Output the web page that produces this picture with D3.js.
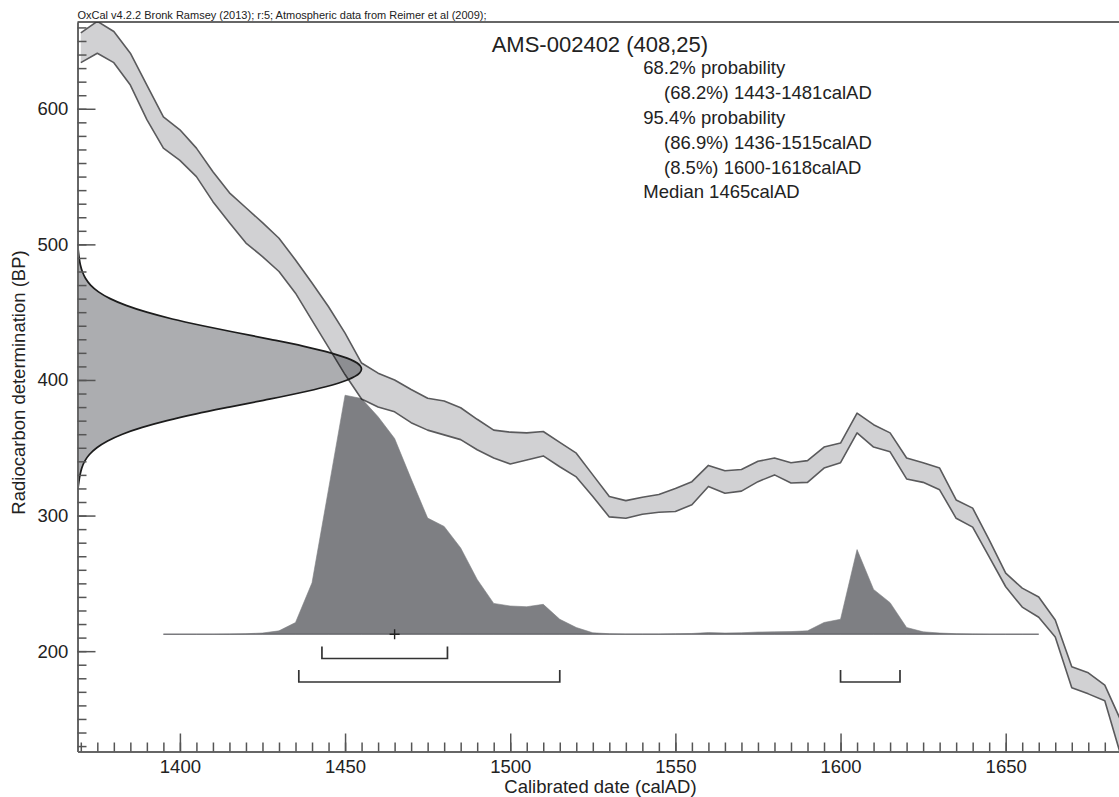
<!DOCTYPE html>
<html><head><meta charset="utf-8">
<script src="https://cdn.jsdelivr.net/npm/d3@7/dist/d3.min.js"></script>
<style>
html,body{margin:0;padding:0;background:#fff;}
svg text{font-family:"Liberation Sans",Arial,Helvetica,sans-serif;fill:#222;}
</style></head>
<body>
<svg id="chart" width="1119" height="797"></svg>
<script>
// ---------- DATA ----------
const headerText = "OxCal v4.2.2 Bronk Ramsey (2013); r:5; Atmospheric data from Reimer et al (2009);";
const titleText = "AMS-002402 (408,25)";
const infoLines = [
  {t:"68.2% probability", indent:false},
  {t:"(68.2%) 1443-1481calAD", indent:true},
  {t:"95.4% probability", indent:false},
  {t:"(86.9%) 1436-1515calAD", indent:true},
  {t:"(8.5%) 1600-1618calAD", indent:true},
  {t:"Median 1465calAD", indent:false}
];
const xLabel = "Calibrated date (calAD)";
const yLabel = "Radiocarbon determination (BP)";
const xMajorTicks = [1400,1450,1500,1550,1600,1650];
const yMajorTicks = [200,300,400,500,600];

// calibration curve band (calAD, BP upper / lower edge)
const curveYears = [1370,1375,1380,1385,1390,1395,1400,1405,1410,1415,1420,1425,1430,1435,1440,1445,1450,1455,1460,1465,1470,1475,1480,1485,1490,1495,1500,1505,1510,1515,1520,1525,1530,1535,1540,1545,1550,1555,1560,1565,1570,1575,1580,1585,1590,1595,1600,1605,1610,1615,1620,1625,1630,1635,1640,1645,1650,1655,1660,1665,1670,1675,1680,1685];
const curveUpper = [656,664.5,657,641,617.5,594,584.5,571,553.5,538,527,516,504.5,488.5,471.5,454,434.5,412.5,405,400,393,386.5,384.5,379.5,371,363,361.5,361,362,354,346,330,314,311,313.5,315.5,320,325,337,333,334,340,342.5,339,340.5,350.5,353.5,375.5,367,361,342.5,339,335,311.5,305.5,282,257.5,246.5,240,223,188.5,184,175,148];
const curveLower = [634,641,634,617.5,592,571,562,550,531.5,516,501,491,480,464,444,424,404,386,380,376.5,368.5,363,359.5,356,348.5,342.5,338,341,344,336,328.5,314,299,298,301,302.5,303,308,321.5,316.5,318,325,330,324,324.5,335,339,361,350.5,347,327,324.5,319,298,291.5,269.5,247.5,232.5,225,210.5,173,168.5,163.5,122];

// radiocarbon measurement distribution (BP, relative density)
const rcBP = [500,495,490,485,480,475,470,465,460,455,450,445,440,435,430,425,420,415,410,408,405,400,395,390,385,380,375,370,365,360,355,350,345,340,335,330,325,320,316];
const rcDensity = [0.001,0.003,0.006,0.010,0.017,0.028,0.046,0.074,0.115,0.171,0.244,0.334,0.441,0.558,0.679,0.794,0.891,0.962,0.997,1.0,0.993,0.950,0.874,0.772,0.655,0.534,0.418,0.315,0.228,0.158,0.106,0.068,0.042,0.025,0.015,0.009,0.005,0.002,0.001];

// calibrated probability (calAD, relative probability)
const calYears = [1395,1400,1405,1410,1415,1420,1425,1430,1435,1440,1445,1450,1455,1460,1465,1470,1475,1480,1485,1490,1495,1500,1505,1510,1515,1520,1525,1530,1535,1540,1545,1550,1555,1560,1565,1570,1575,1580,1585,1590,1595,1600,1605,1610,1615,1620,1625,1630,1635,1640,1645,1650,1655,1660];
const calProb = [0,0,0,0,0.001,0.002,0.005,0.014,0.049,0.215,0.607,1.0,0.986,0.91,0.819,0.65,0.486,0.451,0.361,0.229,0.129,0.118,0.115,0.125,0.0625,0.028,0.006,0.002,0.001,0.001,0.001,0.002,0.003,0.007,0.005,0.006,0.009,0.010,0.011,0.014,0.049,0.0625,0.354,0.1875,0.132,0.028,0.010,0.005,0.002,0.001,0,0,0,0];

const range68 = [[1443,1481]];
const range95 = [[1436,1515],[1600,1618]];
const medianYear = 1465;
const baselineBP = 212.5;

// ---------- LAYOUT ----------
const svg = d3.select("#chart");
const L = 77.5, R = 1119, T = 22, B = 751.5;
const x = d3.scaleLinear().domain([1369, 1684.3]).range([L, R]);
const y = d3.scaleLinear().domain([126, 664]).range([B, T]);
const wScale = d3.scaleLinear().domain([0,1]).range([0, 284]);
const hScale = d3.scaleLinear().domain([0,1]).range([0, 239]);

svg.append("defs").append("clipPath").attr("id","plotclip")
  .append("rect").attr("x",L).attr("y",T).attr("width",R-L).attr("height",B-T);
const plot = svg.append("g").attr("clip-path","url(#plotclip)");

// calibration band
const band = curveYears.map((yr,i)=>({yr, hi:curveUpper[i], lo:curveLower[i]}));
plot.append("path").datum(band)
  .attr("d", d3.area().x(d=>x(d.yr)).y0(d=>y(d.lo)).y1(d=>y(d.hi)))
  .attr("fill","#d1d1d3").attr("stroke","none");
[["hi"],["lo"]].forEach(([k])=>{
  plot.append("path").datum(band)
    .attr("d", d3.line().x(d=>x(d.yr)).y(d=>y(d[k])))
    .attr("fill","none").attr("stroke","#5a5a5c").attr("stroke-width",1.6).attr("stroke-linejoin","round");
});

// radiocarbon gaussian on y axis
const rc = rcBP.map((bp,i)=>({bp, p:rcDensity[i]}));
plot.append("path").datum(rc)
  .attr("d", d3.area().curve(d3.curveMonotoneY).y(d=>y(d.bp)).x0(L).x1(d=>L+wScale(d.p)))
  .attr("fill","#acadb0").style("mix-blend-mode","multiply");
plot.append("path").datum(rc)
  .attr("d", d3.line().curve(d3.curveMonotoneY).y(d=>y(d.bp)).x(d=>L+wScale(d.p)))
  .attr("fill","none").attr("stroke","#1c1c1c").attr("stroke-width",1.7);

// calibrated distribution
const baseY = y(baselineBP);
const cal = calYears.map((yr,i)=>({yr, p:calProb[i]}));
plot.append("line").attr("x1",x(calYears[0])).attr("x2",x(calYears[calYears.length-1]))
  .attr("y1",baseY).attr("y2",baseY).attr("stroke","#9a9a9c").attr("stroke-width",1);
plot.append("path").datum(cal)
  .attr("d", d3.area().x(d=>x(d.yr)).y0(baseY).y1(d=>baseY-hScale(d.p)))
  .attr("fill","#7e7f83").attr("stroke","#7e7f83").attr("stroke-width",0.6)
  .style("mix-blend-mode","multiply");

// median cross
const mx = x(medianYear);
svg.append("path").attr("d",`M${mx-5},${baseY}H${mx+5}M${mx},${baseY-5}V${baseY+5}`)
  .attr("stroke","#222").attr("stroke-width",1.4);

// range brackets
function bracket(r, top, bot){
  svg.append("path")
    .attr("d",`M${x(r[0])},${top}V${bot}H${x(r[1])}V${top}`)
    .attr("fill","none").attr("stroke","#333").attr("stroke-width",1.7);
}
range68.forEach(r=>bracket(r, 646.5, 658.5));
range95.forEach(r=>bracket(r, 670, 682));

// ---------- AXES ----------
const axisStyle = g => {
  g.selectAll(".domain").attr("stroke","#666").attr("stroke-width",2);
  g.selectAll(".tick line").attr("stroke","#555").attr("stroke-width",1.5);
  g.selectAll("text").attr("fill","#222").style("font-size","18.5px")
   .style("font-family","'Liberation Sans',Arial,sans-serif");
};
svg.append("g").attr("transform",`translate(0,${B})`)
  .call(d3.axisBottom(x).tickValues(d3.range(1370,1685,5)).tickSize(-9).tickSizeOuter(0).tickFormat(""))
  .call(axisStyle);
svg.append("g").attr("transform",`translate(0,${B})`)
  .call(d3.axisBottom(x).tickValues(xMajorTicks).tickSize(-18).tickSizeOuter(0).tickPadding(8.5).tickFormat(d3.format("d")))
  .call(axisStyle).call(g=>g.select(".domain").remove());
svg.append("g").attr("transform",`translate(${L},0)`)
  .call(d3.axisLeft(y).tickValues(d3.range(130,665,10)).tickSize(-9).tickSizeOuter(0).tickFormat(""))
  .call(axisStyle);
svg.append("g").attr("transform",`translate(${L},0)`)
  .call(d3.axisLeft(y).tickValues(yMajorTicks).tickSize(-18).tickSizeOuter(0).tickPadding(9.2).tickFormat(d3.format("d")))
  .call(axisStyle).call(g=>g.select(".domain").remove());

// top border
svg.append("line").attr("x1",L).attr("x2",R).attr("y1",T).attr("y2",T)
  .attr("stroke","#333").attr("stroke-width",1.5);

// ---------- TEXT ----------
svg.append("text").attr("x",L).attr("y",19).style("font-size","11px").text(headerText);
svg.append("text").attr("x",491.7).attr("y",52.3).style("font-size","22px").text(titleText);
infoLines.forEach((d,i)=>{
  svg.append("text").attr("x", d.indent?664:643.3).attr("y",74.3+i*24.8)
    .style("font-size","18.5px").text(d.t);
});
svg.append("text").attr("x",600.5).attr("y",793).attr("text-anchor","middle")
  .style("font-size","18.5px").text(xLabel);
svg.append("text").attr("transform","translate(25,382.5) rotate(-90)").attr("text-anchor","middle")
  .style("font-size","18.5px").text(yLabel);
</script>
</body></html>
